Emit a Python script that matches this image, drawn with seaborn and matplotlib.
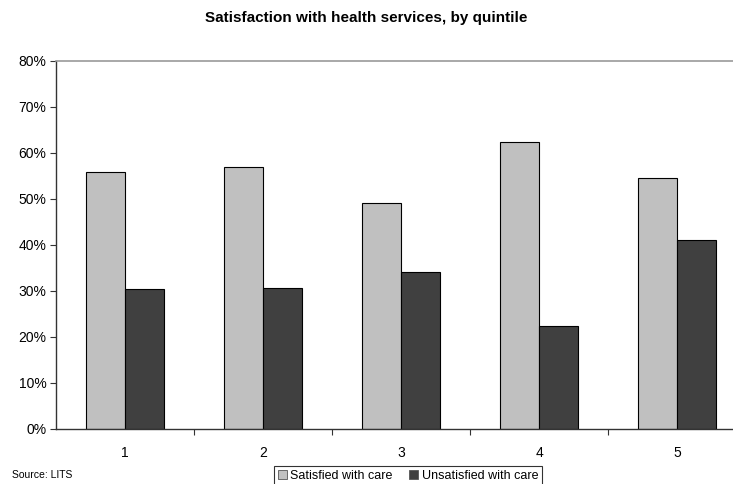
import matplotlib
matplotlib.use("Agg")
import matplotlib.pyplot as plt
import seaborn as sns
import pandas as pd
import numpy as np
from matplotlib.ticker import FixedLocator, PercentFormatter
from matplotlib.patches import Patch

quintiles = ["1", "2", "3", "4", "5"]
satisfied = [55.9, 57.0, 49.1, 62.4, 54.6]
unsatisfied = [30.5, 30.6, 34.1, 22.4, 41.1]
series_names = ["Satisfied with care", "Unsatisfied with care"]
colors = ["#C0C0C0", "#404040"]

df = pd.DataFrame({
    "quintile": quintiles * 2,
    "value": satisfied + unsatisfied,
    "series": [series_names[0]] * 5 + [series_names[1]] * 5,
})

sns.set_style("white")
plt.rcParams["font.family"] = ["Liberation Sans", "DejaVu Sans"]
plt.rcParams["text.color"] = "black"
plt.rcParams["xtick.color"] = "black"
plt.rcParams["ytick.color"] = "black"

fig = plt.figure(figsize=(7.33, 4.84), dpi=100)
ax = fig.add_axes([56 / 733, 55 / 484, 690 / 733, 368 / 484])

sns.barplot(data=df, x="quintile", y="value", hue="series", palette=colors,
            width=0.565, edgecolor="black", linewidth=0.8, ax=ax, legend=False,
            saturation=1)

ax.set_ylim(0, 80)
ax.set_xlim(-0.5, 4.5)
ax.set_yticks(np.arange(0, 81, 10))
ax.yaxis.set_major_formatter(PercentFormatter(decimals=0))
ax.set_xlabel("")
ax.set_ylabel("")

for s in ["left", "bottom"]:
    ax.spines[s].set_color("#333333")
    ax.spines[s].set_linewidth(1.0)
ax.spines["top"].set_color("#999999")
ax.spines["top"].set_linewidth(1.2)
ax.spines["right"].set_visible(False)

ax.tick_params(axis="y", direction="out", length=4, width=0.8, color="#333333",
               labelsize=10, pad=3, left=True, labelcolor="black")
ax.tick_params(axis="x", which="major", length=0, labelsize=10, pad=12, labelcolor="black")
ax.xaxis.set_minor_locator(FixedLocator([0.5, 1.5, 2.5, 3.5]))
ax.tick_params(axis="x", which="minor", direction="out", length=4, width=0.8,
               color="#333333", bottom=True)

fig.text(0.5, 1 - 18 / 484, "Satisfaction with health services, by quintile",
         ha="center", va="center", fontsize=11, fontweight="bold", color="black")
fig.text(12 / 733, 1 - 475 / 484, "Source: LITS", ha="left", va="center",
         fontsize=7.5, color="black")

handles = [Patch(facecolor=c, edgecolor="#555555", linewidth=0.6) for c in colors]
leg = fig.legend(handles, series_names, loc="center", bbox_to_anchor=(408 / 733, 1 - 476 / 484),
                 ncol=2, fontsize=9, frameon=True, fancybox=False, edgecolor="black",
                 handlelength=0.7, handleheight=0.7, handletextpad=0.3, columnspacing=1.3,
                 borderpad=0.3)
leg.get_frame().set_linewidth(0.8)
for t in leg.get_texts():
    t.set_color("black")

fig.savefig("out.png", dpi=100)
